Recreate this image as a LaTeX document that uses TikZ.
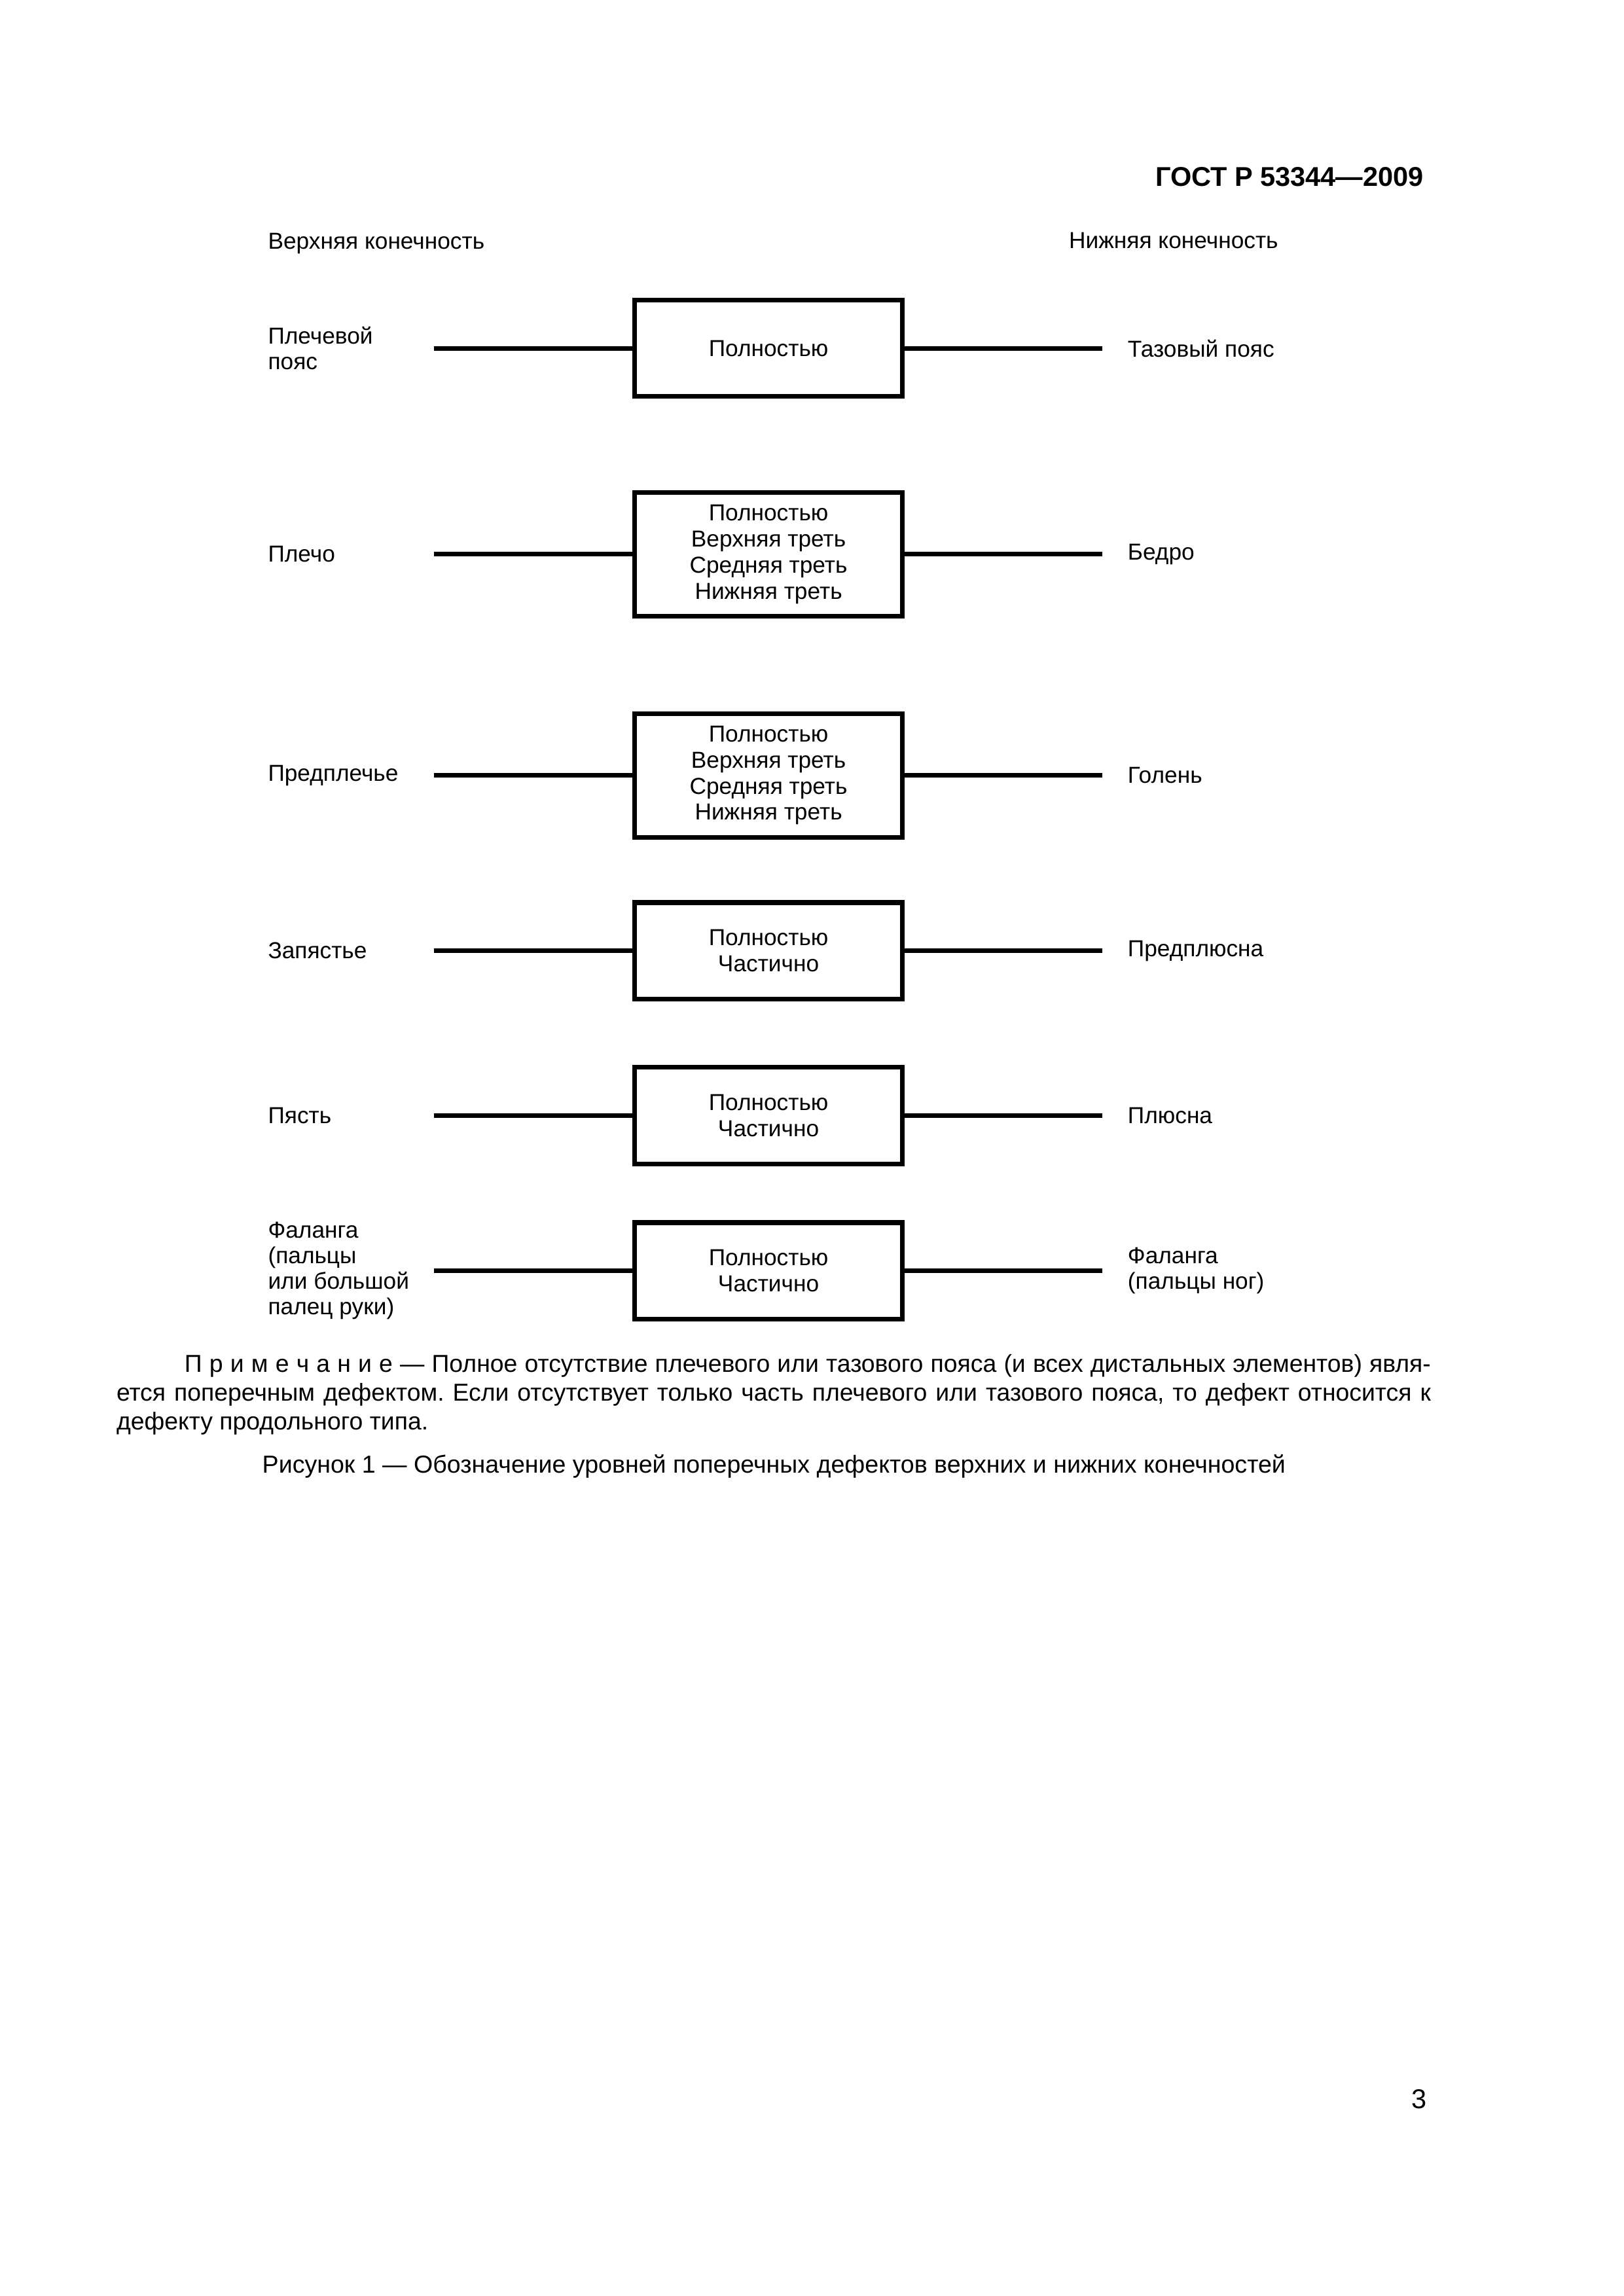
\documentclass[tikz,border=0pt]{standalone}
\usepackage{fontspec}
\setmainfont{Liberation Sans}
\usepackage{tikz}
\usetikzlibrary{positioning}
\frenchspacing

\tikzset{
  lvl/.style={draw, line width=0.6mm, minimum width=34.6mm, minimum height=12.5mm,
    align=center, inner sep=0pt, font=\fontsize{8.5}{9.6}\selectfont},
  lbl/.style={anchor=west, align=left, inner sep=0pt, font=\fontsize{8.5}{9.4}\selectfont},
  cnx/.style={line width=0.6mm},
}

\begin{document}
\begin{tikzpicture}[x=1mm, y=-1mm]
  \useasboundingbox (0,0) rectangle (210,297);
  % header
  \node[anchor=east, inner sep=0pt, font=\bfseries\fontsize{10}{12}\selectfont] (gost) at (184.2,22.9) {ГОСТ Р 53344—2009};
  \node[lbl] (upper) at (34.6,31.5) {Верхняя конечность};
  \node[lbl] (lower) at (138.2,31.1) {Нижняя конечность};
  % levels
  \foreach \i/\y/\h/\l/\t/\r in {
      1/45.05/12.5/{Плечевой\\пояс}/{Полностью}/{Тазовый пояс},
      2/71.7/16.0/{Плечо}/{Полностью\\Верхняя треть\\Средняя треть\\Нижняя треть}/{Бедро},
      3/100.3/16.0/{Предплечье}/{Полностью\\Верхняя треть\\Средняя треть\\Нижняя треть}/{Голень},
      4/123.0/12.5/{Запястье}/{Полностью\\Частично}/{Предплюсна},
      5/144.3/12.5/{Пясть}/{Полностью\\Частично}/{Плюсна},
      6/164.4/12.5/{Фаланга\\(пальцы\\или большой\\палец руки)}/{Полностью\\Частично}/{Фаланга\\(пальцы ног)}} {
    \node[lvl, minimum height=\h mm] (b\i) at (99.4,\y) {\t};
    \node[lbl] (l\i) at (34.6,\y) {\l};
    \coordinate (la\i) at (56.1,\y);
    \coordinate (ra\i) at (142.6,\y);
    \node[lbl, right=3.2mm of ra\i] (r\i) {\r};
    \draw[cnx] (la\i) -- (b\i.west);
    \draw[cnx] (b\i.east) -- (ra\i);
  }
  % note and caption
  \node[anchor=north west, text width=170mm, align=justify, inner sep=0pt,
    font=\fontsize{9}{10.7}\selectfont] (note) at (15,175.1)
    {\hspace*{8.8mm}П р и м е ч а н и е — Полное отсутствие плечевого или тазового пояса (и всех дистальных элементов) явля-\linebreak ется поперечным дефектом. Если отсутствует только часть плечевого или тазового пояса, то дефект относится к\linebreak дефекту продольного типа.};
  \node[inner sep=0pt, font=\fontsize{9.05}{10.7}\selectfont] (cap) at (100.1,189.65)
    {Рисунок 1 — Обозначение уровней поперечных дефектов верхних и нижних конечностей};
  \node[anchor=east, inner sep=0pt, font=\fontsize{10}{12}\selectfont] (page) at (184.6,271.5) {3};
\end{tikzpicture}
\end{document}
